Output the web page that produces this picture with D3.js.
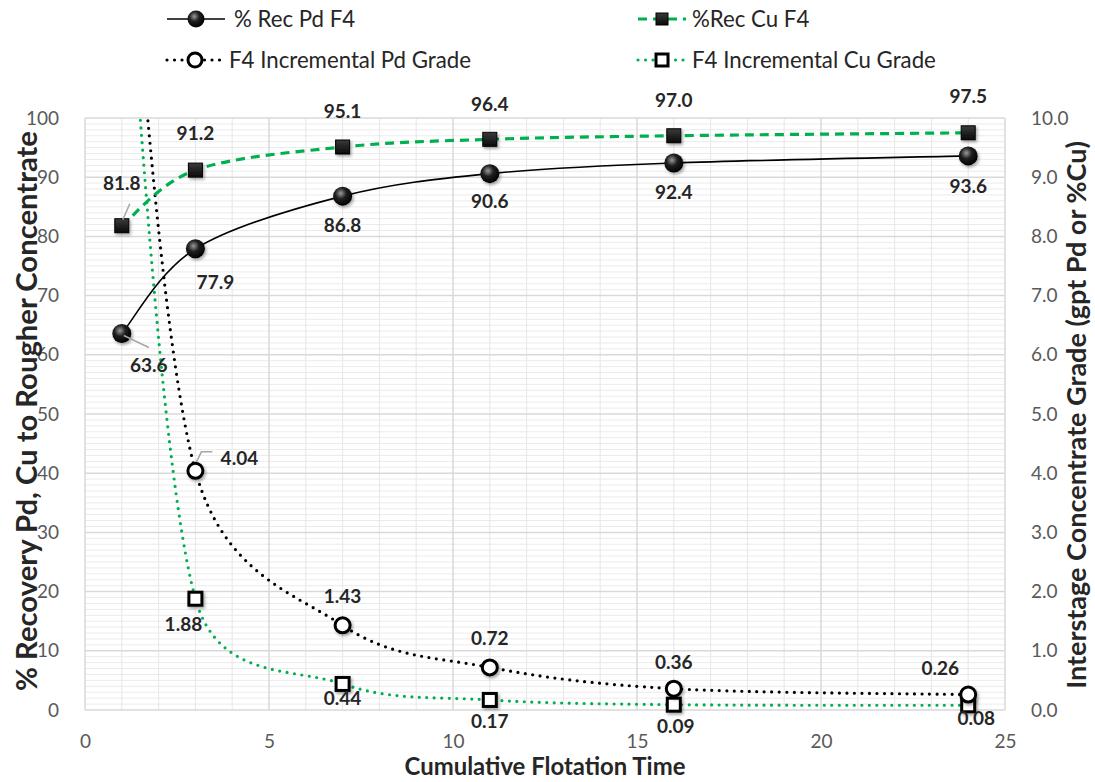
<!DOCTYPE html>
<html><head><meta charset="utf-8">
<script src="https://cdn.jsdelivr.net/npm/d3@7"></script>
<style>
body{margin:0;background:#fff;}
text{font-family:Lato,"Open Sans",sans-serif;}
</style></head>
<body><svg id="c" width="1095" height="782"></svg>
<script>
// ---- data ----
const time = [1, 3, 7, 11, 16, 24];
const recPd = [63.6, 77.9, 86.8, 90.6, 92.4, 93.6];
const recCu = [81.8, 91.2, 95.1, 96.4, 97.0, 97.5];
const gradePd = [15.0, 4.04, 1.43, 0.72, 0.36, 0.26];
const gradeCu = [14.0, 1.88, 0.44, 0.17, 0.09, 0.08];
const gradePdLabels = [null, "4.04", "1.43", "0.72", "0.36", "0.26"];
const gradeCuLabels = [null, "1.88", "0.44", "0.17", "0.09", "0.08"];
const xTicks = [0, 5, 10, 15, 20, 25];
const yLeftTicks = [0, 10, 20, 30, 40, 50, 60, 70, 80, 90, 100];
const yRightTicks = [0, 1, 2, 3, 4, 5, 6, 7, 8, 9, 10];
const seriesNames = ["% Rec Pd F4", "%Rec Cu F4", "F4 Incremental Pd Grade", "F4 Incremental Cu Grade"];

const svg = d3.select("#c");
const L = 85, R = 1005, T = 118, B = 710;
const x = d3.scaleLinear().domain([0, 25]).range([L, R]);
const yL = d3.scaleLinear().domain([0, 100]).range([B, T]);
const yR = d3.scaleLinear().domain([0, 10]).range([B, T]);
const GREEN = "#00b050";

// Spreadsheet-style smoothed curve (Bezier, 1/6 tangents, arms capped at half the segment)
function SmoothCurve(context) { this._context = context; }
SmoothCurve.prototype = {
  areaStart() { this._line = 0; }, areaEnd() { this._line = NaN; },
  lineStart() { this._pts = []; },
  point(px, py) { this._pts.push([+px, +py]); },
  lineEnd() {
    const p = this._pts, c = this._context, n = p.length;
    if (!n) return;
    c.moveTo(p[0][0], p[0][1]);
    const dist = (a, b) => Math.hypot(a[0] - b[0], a[1] - b[1]);
    for (let i = 0; i < n - 1; i++) {
      const P0 = p[i - 1] || p[i], P1 = p[i], P2 = p[i + 1], P3 = p[i + 2] || p[i + 1];
      const d12 = dist(P1, P2), d02 = dist(P0, P2), d13 = dist(P1, P3);
      let f1 = 1 / 6, f2 = 1 / 6;
      if (d02 / 6 >= d12 / 2 && d02 > 0) f1 = d12 / (2 * d02);
      if (d13 / 6 >= d12 / 2 && d13 > 0) f2 = d12 / (2 * d13);
      const c1 = [P1[0] + f1 * (P2[0] - P0[0]), P1[1] + f1 * (P2[1] - P0[1])];
      const c2 = [P2[0] - f2 * (P3[0] - P1[0]), P2[1] - f2 * (P3[1] - P1[1])];
      c.bezierCurveTo(c1[0], c1[1], c2[0], c2[1], P2[0], P2[1]);
    }
  }
};
const curveSmooth = ctx => new SmoothCurve(ctx);

const defs = svg.append("defs");
defs.append("clipPath").attr("id", "clip").append("rect").attr("x", L).attr("y", T).attr("width", R - L).attr("height", B - T);
const rg = defs.append("radialGradient").attr("id", "ball").attr("cx", "40%").attr("cy", "35%").attr("r", "65%");
rg.append("stop").attr("offset", "0%").attr("stop-color", "#9a9a9a");
rg.append("stop").attr("offset", "45%").attr("stop-color", "#202020");
rg.append("stop").attr("offset", "100%").attr("stop-color", "#000");
const sq = defs.append("linearGradient").attr("id", "sq").attr("x1", "0").attr("y1", "0").attr("x2", "0").attr("y2", "1");
sq.append("stop").attr("offset", "0%").attr("stop-color", "#3a3a3a");
sq.append("stop").attr("offset", "100%").attr("stop-color", "#0a0a0a");
const sh = defs.append("filter").attr("id", "shadow").attr("x", "-50%").attr("y", "-50%").attr("width", "200%").attr("height", "200%");
sh.append("feDropShadow").attr("dx", 1.5).attr("dy", 2).attr("stdDeviation", 1.5).attr("flood-color", "#000").attr("flood-opacity", 0.35);

function fit(sel, target) {
  const n = sel.node();
  const fs = parseFloat(sel.attr("font-size"));
  const len = n.getComputedTextLength();
  if (len > 0) sel.attr("font-size", (fs * target / len).toFixed(2));
  return sel;
}

// ---- grid ----
const grid = svg.append("g");
grid.selectAll(".hmin").data(d3.range(0, 101, 1).filter(v => v % 10 !== 0)).join("line")
  .attr("x1", L).attr("x2", R).attr("y1", d => yL(d)).attr("y2", d => yL(d))
  .attr("stroke", "#ebebeb").attr("stroke-width", 1);
grid.selectAll(".vmin").data(d3.range(0, 26, 1).filter(v => v % 5 !== 0)).join("line")
  .attr("y1", T).attr("y2", B).attr("x1", d => x(d)).attr("x2", d => x(d))
  .attr("stroke", "#e6e6e6").attr("stroke-width", 1);
grid.selectAll(".hmaj").data(yLeftTicks).join("line")
  .attr("x1", L).attr("x2", R).attr("y1", d => yL(d)).attr("y2", d => yL(d))
  .attr("stroke", "#d9d9d9").attr("stroke-width", 1.5);
grid.selectAll(".vmaj").data(xTicks).join("line")
  .attr("y1", T).attr("y2", B).attr("x1", d => x(d)).attr("x2", d => x(d))
  .attr("stroke", "#d9d9d9").attr("stroke-width", 1.5);

// ---- axes ----
const tickStyle = g => {
  g.select(".domain").remove();
  g.selectAll(".tick line").remove();
  g.selectAll(".tick text").attr("fill", "#595959").style("font-size", "19px").style("font-family", "Lato");
};
svg.append("g").attr("transform", `translate(0,${B})`)
  .call(d3.axisBottom(x).tickValues(xTicks).tickFormat(d3.format("d")).tickPadding(19)).call(tickStyle);
svg.append("g").attr("transform", `translate(${L},0)`)
  .call(d3.axisLeft(yL).tickValues(yLeftTicks).tickFormat(d3.format("d")).tickPadding(20)).call(tickStyle);
svg.append("g").attr("transform", `translate(${R},0)`)
  .call(d3.axisRight(yR).tickValues(yRightTicks).tickFormat(d3.format(".1f")).tickPadding(20)).call(tickStyle);

fit(svg.append("text").attr("x", 545).attr("y", 775).attr("text-anchor", "middle")
  .attr("font-weight", "bold").attr("font-size", 24).attr("fill", "#262626").text("Cumulative Flotation Time"), 281);
fit(svg.append("text").attr("transform", `translate(37,411) rotate(-90)`).attr("text-anchor", "middle")
  .attr("font-weight", "bold").attr("font-size", 24).attr("fill", "#262626").text("% Recovery Pd, Cu to Rougher Concentrate"), 560);
fit(svg.append("text").attr("transform", `translate(1086,415) rotate(-90)`).attr("text-anchor", "middle")
  .attr("font-weight", "bold").attr("font-size", 24).attr("fill", "#262626").text("Interstage Concentrate Grade (gpt Pd or %Cu)"), 548);

// ---- lines ----
const lineL = d3.line().x((d, i) => x(time[i])).y(d => yL(d)).curve(curveSmooth);
const lineR = d3.line().x((d, i) => x(time[i])).y(d => yR(d)).curve(curveSmooth);
const plot = svg.append("g").attr("clip-path", "url(#clip)");
plot.append("path").attr("d", lineR(gradeCu)).attr("fill", "none").attr("stroke", GREEN)
  .attr("stroke-width", 3.2).attr("stroke-linecap", "round").attr("stroke-dasharray", "0,7.5");
plot.append("path").attr("d", lineR(gradePd)).attr("fill", "none").attr("stroke", "#000")
  .attr("stroke-width", 3.2).attr("stroke-linecap", "round").attr("stroke-dasharray", "0,7.5");
plot.append("path").attr("d", lineL(recCu)).attr("fill", "none").attr("stroke", GREEN)
  .attr("stroke-width", 3.2).attr("stroke-dasharray", "9,6");
plot.append("path").attr("d", lineL(recPd)).attr("fill", "none").attr("stroke", "#000")
  .attr("stroke-width", 1.6);

// ---- markers ----
const mk = svg.append("g");
mk.selectAll(".cugs").data(gradeCu.map((v, i) => ({v, i})).filter(d => d.v <= 10)).join("rect")
  .attr("x", d => x(time[d.i]) - 6.5).attr("y", d => yR(d.v) - 6.5).attr("width", 13).attr("height", 13)
  .attr("fill", "#fff").attr("stroke", "#000").attr("stroke-width", 3).attr("filter", "url(#shadow)");
mk.selectAll(".pdgs").data(gradePd.map((v, i) => ({v, i})).filter(d => d.v <= 10)).join("circle")
  .attr("cx", d => x(time[d.i])).attr("cy", d => yR(d.v)).attr("r", 7.5)
  .attr("fill", "#fff").attr("stroke", "#000").attr("stroke-width", 3).attr("filter", "url(#shadow)");
mk.selectAll(".curs").data(recCu).join("rect")
  .attr("x", (d, i) => x(time[i]) - 7).attr("y", d => yL(d) - 7).attr("width", 14).attr("height", 14)
  .attr("fill", "url(#sq)").attr("stroke", "#000").attr("stroke-width", 1).attr("filter", "url(#shadow)");
mk.selectAll(".pdrs").data(recPd).join("circle")
  .attr("cx", (d, i) => x(time[i])).attr("cy", d => yL(d)).attr("r", 9.5)
  .attr("fill", "url(#ball)").attr("filter", "url(#shadow)");

// ---- data labels ----
const lab = svg.append("g").attr("font-weight", "bold").attr("font-size", 19).attr("fill", "#262626").attr("text-anchor", "middle");
const cuRecOff = [[0, -36], [0, -30], [0, -29], [0, -28], [0, -29], [0, -30]];
lab.selectAll(".l1").data(recCu).join("text")
  .attr("x", (d, i) => x(time[i]) + cuRecOff[i][0]).attr("y", (d, i) => yL(d) + cuRecOff[i][1])
  .text(d => d.toFixed(1));
const pdRecOff = [[27, 39], [20, 40], [0, 36], [0, 34], [0, 36], [0, 37]];
lab.selectAll(".l2").data(recPd).join("text")
  .attr("x", (d, i) => x(time[i]) + pdRecOff[i][0]).attr("y", (d, i) => yL(d) + pdRecOff[i][1])
  .text(d => d.toFixed(1));
const pdGOff = [null, [44, -6], [0, -22], [0, -22], [0, -20], [-28, -20]];
lab.selectAll(".l3").data(gradePd.map((v, i) => ({v, i})).filter(d => gradePdLabels[d.i])).join("text")
  .attr("x", d => x(time[d.i]) + pdGOff[d.i][0]).attr("y", d => yR(d.v) + pdGOff[d.i][1])
  .text(d => gradePdLabels[d.i]);
const cuGOff = [null, [-12, 32], [0, 21], [0, 28], [2, 28], [8, 20]];
lab.selectAll(".l4").data(gradeCu.map((v, i) => ({v, i})).filter(d => gradeCuLabels[d.i])).join("text")
  .attr("x", d => x(time[d.i]) + cuGOff[d.i][0]).attr("y", d => yR(d.v) + cuGOff[d.i][1])
  .text(d => gradeCuLabels[d.i]);

// leader lines
const leaders = svg.append("g").attr("stroke", "#a6a6a6").attr("stroke-width", 1.5).attr("fill", "none");
leaders.append("path").attr("d", `M${x(time[0]) + 1},${yL(recCu[0]) - 6} L${x(time[0]) + 8},${yL(recCu[0]) - 22}`);
leaders.append("path").attr("d", `M${x(time[0]) + 2},${yL(recPd[0]) + 2} L${x(time[0]) + 27},${yL(recPd[0]) + 14}`);
leaders.append("path").attr("d", `M${x(time[1]) + 1},${yR(gradePd[1]) - 9} L${x(time[1]) + 6},${yR(gradePd[1]) - 19} L${x(time[1]) + 17},${yR(gradePd[1]) - 19}`);

// ---- legend ----
const leg = svg.append("g");
const probe = svg.append("text").attr("font-size", 20).text(seriesNames[2]);
fit(probe, 242);
const legFs = +probe.attr("font-size");
probe.remove();
const legItems = [
  {name: seriesNames[0], x0: 167, lw: 58, tx: 234, y: 19, color: "#000", dash: null, w: 1.6, marker: "ball"},
  {name: seriesNames[1], x0: 638, lw: 48, tx: 692, y: 19, color: GREEN, dash: "9,6", w: 3.2, marker: "sq"},
  {name: seriesNames[2], x0: 167, lw: 56, tx: 229, y: 60, color: "#000", dash: "0,7.5", w: 3.2, marker: "ocirc"},
  {name: seriesNames[3], x0: 638, lw: 48, tx: 692, y: 60, color: GREEN, dash: "0,7.5", w: 3.2, marker: "osq"}
];
legItems.forEach(it => {
  const g = leg.append("g");
  g.append("line").attr("x1", it.x0).attr("x2", it.x0 + it.lw).attr("y1", it.y).attr("y2", it.y)
    .attr("stroke", it.color).attr("stroke-width", it.w).attr("stroke-dasharray", it.dash)
    .attr("stroke-linecap", it.dash === "0,7.5" ? "round" : "butt");
  const cx = it.x0 + it.lw / 2;
  if (it.marker === "ball") g.append("circle").attr("cx", cx).attr("cy", it.y).attr("r", 8.5).attr("fill", "url(#ball)");
  if (it.marker === "sq") g.append("rect").attr("x", cx - 6).attr("y", it.y - 6).attr("width", 12).attr("height", 12).attr("fill", "url(#sq)").attr("stroke", "#000");
  if (it.marker === "ocirc") g.append("circle").attr("cx", cx).attr("cy", it.y).attr("r", 7).attr("fill", "#fff").attr("stroke", "#000").attr("stroke-width", 3);
  if (it.marker === "osq") g.append("rect").attr("x", cx - 6).attr("y", it.y - 6).attr("width", 12).attr("height", 12).attr("fill", "#fff").attr("stroke", "#000").attr("stroke-width", 3);
  g.append("text").attr("x", it.tx).attr("y", it.y).attr("dy", "0.35em").attr("font-size", legFs).attr("fill", "#262626").text(it.name);
});
</script></body></html>
